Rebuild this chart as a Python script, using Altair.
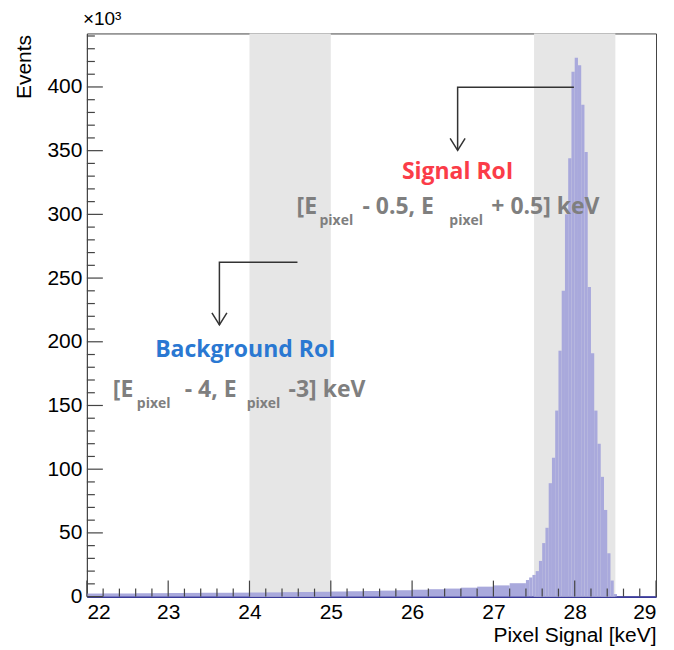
import altair as alt
import pandas as pd

# ---------------- data ----------------
# histogram bins (keV) and counts (x10^3 events)
bin_lo = [22.0, 22.2, 22.4, 22.6, 22.8, 23.0, 23.2, 23.4, 23.6, 23.8,
          24.0, 24.2, 24.4, 24.6, 24.8, 25.0, 25.2, 25.4, 25.6, 25.8,
          26.0, 26.2, 26.4, 26.6, 26.8, 27.0, 27.2,
          27.40, 27.44, 27.48, 27.52, 27.56, 27.60, 27.64, 27.68, 27.72, 27.76,
          27.80, 27.84, 27.88, 27.92, 27.96, 28.00, 28.04, 28.08, 28.12, 28.16,
          28.20, 28.24, 28.28, 28.32, 28.36, 28.40, 28.44, 28.48, 28.52]
counts = [2.4, 2.5, 2.5, 2.6, 2.7, 2.8, 2.9, 3.0, 3.0, 3.1,
          3.2, 3.3, 3.5, 3.6, 3.8, 4.0, 4.2, 4.4, 4.7, 5.0,
          5.4, 5.8, 6.3, 7.0, 7.8, 8.8, 10.5,
          13, 15, 17, 20, 28, 42, 54, 89, 109, 146,
          193, 240, 300, 344, 412, 423, 417, 386, 349, 243,
          191, 146, 120, 94, 68, 34, 12.6, 2.0, 0.3]
bin_hi = bin_lo[1:] + [29.0]

# regions of interest (keV)
band_lo = [24.0, 27.5]
band_hi = [25.0, 28.5]

# axis ticks
x_major = [22, 23, 24, 25, 26, 27, 28, 29]
x_minor = [22.2, 22.4, 22.6, 22.8, 23.2, 23.4, 23.6, 23.8, 24.2, 24.4, 24.6, 24.8,
           25.2, 25.4, 25.6, 25.8, 26.2, 26.4, 26.6, 26.8, 27.2, 27.4, 27.6, 27.8,
           28.2, 28.4, 28.6, 28.8]
y_major = [0, 50, 100, 150, 200, 250, 300, 350, 400]
y_minor = [10, 20, 30, 40, 60, 70, 80, 90, 110, 120, 130, 140, 160, 170, 180, 190,
           210, 220, 230, 240, 260, 270, 280, 290, 310, 320, 330, 340, 360, 370,
           380, 390, 410, 420, 430, 440]

# annotation arrows (keV, x10^3 events)
arrow_x = [27.99, 26.56, 26.56, 24.59, 23.63, 23.63]
arrow_y = [399.7, 399.7, 350.3, 262.5, 262.5, 213.2]
arrow_id = ["sig", "sig", "sig", "bkg", "bkg", "bkg"]
arrow_order = [0, 1, 2, 0, 1, 2]

# annotation texts
title_text = ["Signal RoI", "Background RoI"]
title_x = [26.56, 23.95]
title_y = [333, 193.5]
title_color = ["#fb3c48", "#2a78d2"]

piece_text = ["[E", "pixel", "- 0.5, E", "pixel", "+ 0.5] keV",
              "[E", "pixel", "- 4, E", "pixel", "-3] keV"]
piece_x = [24.579, 24.861, 25.389, 26.458, 26.974,
           22.319, 22.614, 23.203, 23.965, 24.481]
piece_y = [306, 295, 306, 295, 306,
           162, 151, 162, 151, 162]
piece_size = [23, 14, 23, 14, 23, 23, 14, 23, 14, 23]

# ---------------- frames ----------------
hist_df = pd.DataFrame({"lo": bin_lo, "hi": bin_hi, "n": counts})
band_df = pd.DataFrame({"lo": band_lo, "hi": band_hi})
arrow_df = pd.DataFrame({"x": arrow_x, "y": arrow_y, "id": arrow_id, "o": arrow_order})
head_df = arrow_df[arrow_df["o"] == 2]
title_df = pd.DataFrame({"x": title_x, "y": title_y, "t": title_text, "c": title_color})
piece_df = pd.DataFrame({"x": piece_x, "y": piece_y, "t": piece_text, "s": piece_size})
xmaj_df = pd.DataFrame({"v": x_major})
xmin_df = pd.DataFrame({"v": x_minor})
ymaj_df = pd.DataFrame({"v": y_major})
ymin_df = pd.DataFrame({"v": y_minor})

W, H = 570, 564
FONT = "Liberation Sans"
ANNOT = "Open Sans"
TICK = "#444"
xs = alt.Scale(domain=[22, 29], nice=False, zero=False)
ys = alt.Scale(domain=[0, 442], nice=False, zero=True)

XAX = alt.Axis(values=x_major, format="d", ticks=False, labelPadding=5,
               labelFont=FONT, labelFontSize=21, labelColor="#000",
               domainColor="#3a3a98", domainWidth=2,
               title="Pixel Signal [keV]", titleFont=FONT, titleFontSize=21,
               titleFontWeight="normal", titleColor="#000",
               titleX=W, titleY=39, titleAlign="right", titleBaseline="middle")
YAX = alt.Axis(values=y_major, format="d", ticks=False, labelPadding=5,
               labelFont=FONT, labelFontSize=21, labelColor="#000",
               domainColor="#444", domainWidth=1,
               title="Events", titleFont=FONT, titleFontSize=21,
               titleFontWeight="normal", titleColor="#000", titleAngle=270,
               titleX=-62, titleY=1, titleAlign="right", titleBaseline="middle")


def X(field):
    return alt.X(field, scale=xs, axis=XAX)


def Y(field):
    return alt.Y(field, scale=ys, axis=YAX)


bands = alt.Chart(band_df).mark_rect(color="#e6e6e6").encode(
    x=X("lo:Q"),
    x2="hi:Q",
)

hist = alt.Chart(hist_df).mark_rect(color="#a9a9dc").encode(
    x=X("lo:Q"),
    x2="hi:Q",
    y=Y("n:Q"),
    y2=alt.datum(0),
)


def xticks(df, length):
    return alt.Chart(df).mark_rule(color=TICK, strokeWidth=1.2).encode(
        x=X("v:Q"),
        y=alt.value(H),
        y2=alt.value(H - length),
    )


def yticks(df, length):
    return alt.Chart(df).mark_rule(color=TICK, strokeWidth=1.2).encode(
        y=Y("v:Q"),
        x=alt.value(0),
        x2=alt.value(length),
    )


arrows = alt.Chart(arrow_df).mark_line(color="#333", strokeWidth=1.5).encode(
    x=X("x:Q"),
    y=Y("y:Q"),
    detail="id:N",
    order="o:Q",
)

heads = alt.Chart(head_df).mark_point(
    shape="M-1,-1.6L0,0L1,-1.6", filled=False, color="#333",
    strokeWidth=1.5, size=225, opacity=1
).encode(
    x=X("x:Q"),
    y=Y("y:Q"),
)

titles = alt.Chart(title_df).mark_text(
    font=ANNOT, fontWeight="bold", fontSize=23, align="center", baseline="middle"
).encode(
    x=X("x:Q"),
    y=Y("y:Q"),
    text="t:N",
    color=alt.Color("c:N", scale=None),
)

pieces = alt.Chart(piece_df).mark_text(
    font=ANNOT, fontWeight="bold", align="left", baseline="middle", color="#7f7f7f"
).encode(
    x=X("x:Q"),
    y=Y("y:Q"),
    text="t:N",
    size=alt.Size("s:Q", scale=None),
)

chart = alt.layer(
    bands, hist,
    xticks(xmaj_df, 16), xticks(xmin_df, 8),
    yticks(ymaj_df, 16), yticks(ymin_df, 8),
    arrows, heads, titles, pieces,
).properties(
    width=W, height=H,
    autosize=alt.AutoSizeParams(type="none"),
    padding={"left": 79, "top": 25, "right": 10, "bottom": 52},
    title=alt.TitleParams("×10³", anchor="start", frame="group", font=FONT, fontSize=19,
                          fontWeight="normal", color="#000", offset=4, dx=-4),
).configure_view(stroke="#444", strokeWidth=1).configure_axis(grid=False)

chart.save("out.html", embed_options={"renderer": "svg", "actions": False})
